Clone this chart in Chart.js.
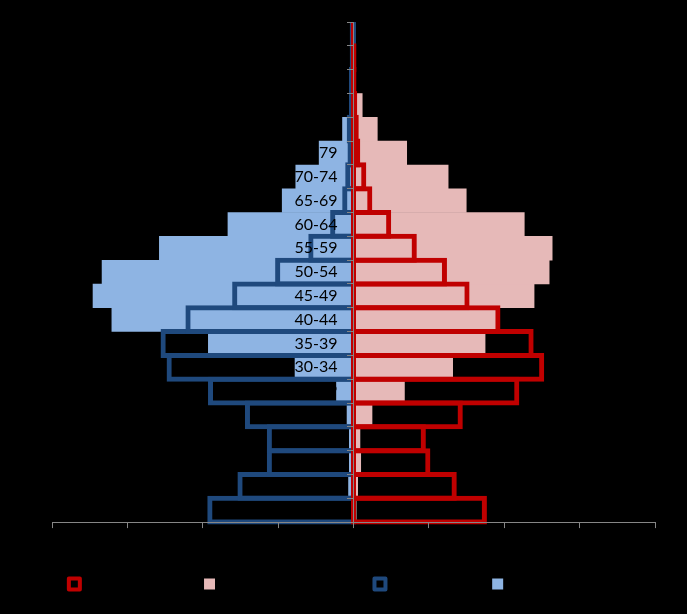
<!DOCTYPE html>
<html>
<head>
<meta charset="utf-8">
<script src="https://cdn.jsdelivr.net/npm/chart.js@4.4.1/dist/chart.umd.min.js"></script>
<style>
    html, body { margin: 0; padding: 0; background: #000; }
    #wrap { width: 687px; height: 614px; }
</style>
</head>
<body>
<div id="wrap"><canvas id="pyramid" width="687" height="614"></canvas></div>
<script>
// age groups, youngest first (drawn bottom-up)
const ageGroups = ["0-4", "5-9", "10-14", "15-19", "20-24", "25-29", "30-34", "35-39", "40-44", "45-49",
    "50-54", "55-59", "60-64", "65-69", "70-74", "75-79", "80-84", "85-89", "90-94", "95-99", "100+"];

// share of total population, %
const womenOld = [1.77, 1.37, 1.02, 0.96, 1.45, 2.2, 2.53, 2.39, 1.95, 1.54, 1.24, 0.84, 0.5, 0.25, 0.17, 0.09, 0.07, 0.05, 0.04, 0.04, 0];
const womenNew = [0.04, 0.06, 0.1, 0.09, 0.25, 0.68, 1.32, 1.75, 1.9, 2.4, 2.6, 2.64, 2.27, 1.5, 1.26, 0.71, 0.32, 0.12, 0.03, 0.01, 0];
const menOld = [1.94, 1.54, 1.15, 1.15, 1.44, 1.93, 2.48, 2.56, 2.23, 1.61, 1.04, 0.6, 0.31, 0.15, 0.11, 0.08, 0.09, 0.06, 0.06, 0.05, 0.05];
const menNew = [0.03, 0.07, 0.06, 0.06, 0.09, 0.23, 0.78, 1.93, 3.21, 3.46, 3.34, 2.58, 1.67, 0.95, 0.77, 0.46, 0.15, 0.06, 0.02, 0.01, 0];

const seriesNames = ["Women 1990 census", "Women 2030 (projection A)", "Men 1990 census", "Men 2030 (projection A)"];
const xTicks = [-4, -3, -2, -1, 0, 1, 2, 3, 4];

const axisGrey = "#868686";
const outlineWidth = 5;
const outlineOverlap = 1.211; // outlines share one edge with the next row

const ctx = document.getElementById("pyramid").getContext("2d");
new Chart(ctx, {
    type: "bar",
    data: {
        labels: ageGroups,
        datasets: [
            {
                label: seriesNames[0],
                data: womenOld,
                base: -0.033,
                backgroundColor: "transparent",
                borderColor: "#C00000",
                borderWidth: outlineWidth,
                borderSkipped: false,
                barPercentage: outlineOverlap,
                clip: { left: false, right: false, top: 0, bottom: 4 }
            },
            {
                label: seriesNames[1],
                data: womenNew,
                backgroundColor: "#E6B9B8",
                borderWidth: 0,
                barPercentage: 1.02
            },
            {
                label: seriesNames[2],
                data: menOld.map(v => -v),
                base: 0.033,
                backgroundColor: "transparent",
                borderColor: "#1F497D",
                borderWidth: outlineWidth,
                borderSkipped: false,
                barPercentage: outlineOverlap,
                clip: { left: false, right: false, top: 0, bottom: 4 }
            },
            {
                label: seriesNames[3],
                data: menNew.map(v => -v),
                backgroundColor: "#8EB4E3",
                borderWidth: 0,
                barPercentage: 1.02
            }
        ]
    },
    options: {
        indexAxis: "y",
        responsive: false,
        animation: false,
        datasets: { bar: { grouped: false, categoryPercentage: 1 } },
        layout: { padding: { left: 52, right: 32, top: 22, bottom: 14 } },
        scales: {
            x: {
                min: xTicks[0],
                max: xTicks[xTicks.length - 1],
                afterBuildTicks: (scale) => { scale.ticks = xTicks.map(v => ({ value: v })); },
                ticks: {
                    color: "#000",
                    padding: 14.25,
                    z: 1,
                    font: { family: "Lato", size: 12 },
                    callback: (v) => Math.abs(v) + "%"
                },
                grid: { drawOnChartArea: false, drawTicks: true, tickLength: 6, color: axisGrey, z: 1 },
                border: { color: axisGrey, z: 1 }
            },
            y: {
                reverse: true,
                position: { x: 0 },
                ticks: {
                    color: "#000",
                    autoSkip: false,
                    z: 1,
                    font: { family: "Lato", size: 16 },
                    // centred axis labels sit flush on the axis, keep a gap
                    callback: function (v) { return this.getLabelForValue(v) + "\u2002\u2002"; }
                },
                grid: { offset: true, drawOnChartArea: false, drawTicks: true, tickLength: 6, color: axisGrey, z: 1 },
                border: { color: axisGrey, z: 1 }
            }
        },
        plugins: {
            tooltip: { enabled: false },
            legend: {
                position: "bottom",
                labels: {
                    color: "#000",
                    boxWidth: 11,
                    boxHeight: 11,
                    padding: 7,
                    font: { family: "Lato", size: 12 },
                    generateLabels: (chart) => {
                        const items = Chart.defaults.plugins.legend.labels.generateLabels(chart);
                        items.forEach(item => {
                            if (item.lineWidth) {
                                item.lineWidth = 4;
                                item.lineJoin = "round";
                            }
                        });
                        return items;
                    }
                }
            }
        }
    }
});
</script>
</body>
</html>
